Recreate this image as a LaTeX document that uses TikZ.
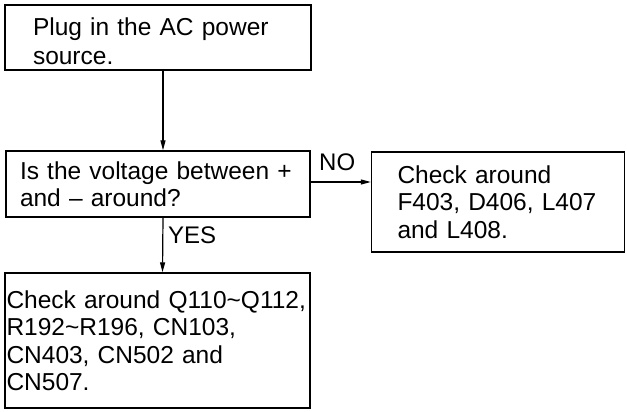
\documentclass[tikz,border=0pt]{standalone}
\usepackage{fontspec}
\setmainfont{Liberation Sans}
\usetikzlibrary{arrows.meta}
\begin{document}
\begin{tikzpicture}[x=1pt,y=1pt,
  box/.style={draw,line width=1.4pt,inner ysep=0pt,align=left,
    font=\fontsize{24.5}{27.5}\selectfont},
  conn/.style={line width=1.2pt,-{Triangle[length=10pt,width=5pt]}},
  lbl/.style={inner sep=0pt,font=\fontsize{24}{27}\selectfont}]
\useasboundingbox (0,0) rectangle (627,-412);
\node[box,inner xsep=28pt,text width=250pt,minimum height=65pt] (b1) at (158,-37.5)
  {\parbox{250pt}{\fontsize{24.5}{29}\selectfont\vspace*{8pt}Plug in the AC power\\source.}};
\node[box,inner xsep=14pt,text width=276pt,minimum height=66pt] (b2) at (158,-184)
  {Is the voltage between +\\and – around?};
\node[box,inner xsep=26pt,text width=201pt,minimum height=100pt] (b3) at (498,-202)
  {Check around\\F403, D406, L407\\and L408.};
\node[box,inner xsep=1.5pt,text width=302pt,minimum height=135pt] (b4) at (157.5,-340.5)
  {Check around Q110\textasciitilde Q112,\\R192\textasciitilde R196, CN103,\\CN403, CN502 and\\CN507.};
\draw[conn] ([xshift=5pt]b1.south) -- ([xshift=5pt]b2.north);
\draw[conn] ([xshift=5pt]b2.south) -- ([xshift=5pt]b4.north);
\draw[conn] ([yshift=2pt]b2.east) -- ([yshift=2pt]b2.east -| b3.west);
\node[lbl,anchor=base west] (no) at (319,-170) {NO};
\node[lbl,anchor=base west] (yes) at (168,-243) {YES};
\end{tikzpicture}
\end{document}
